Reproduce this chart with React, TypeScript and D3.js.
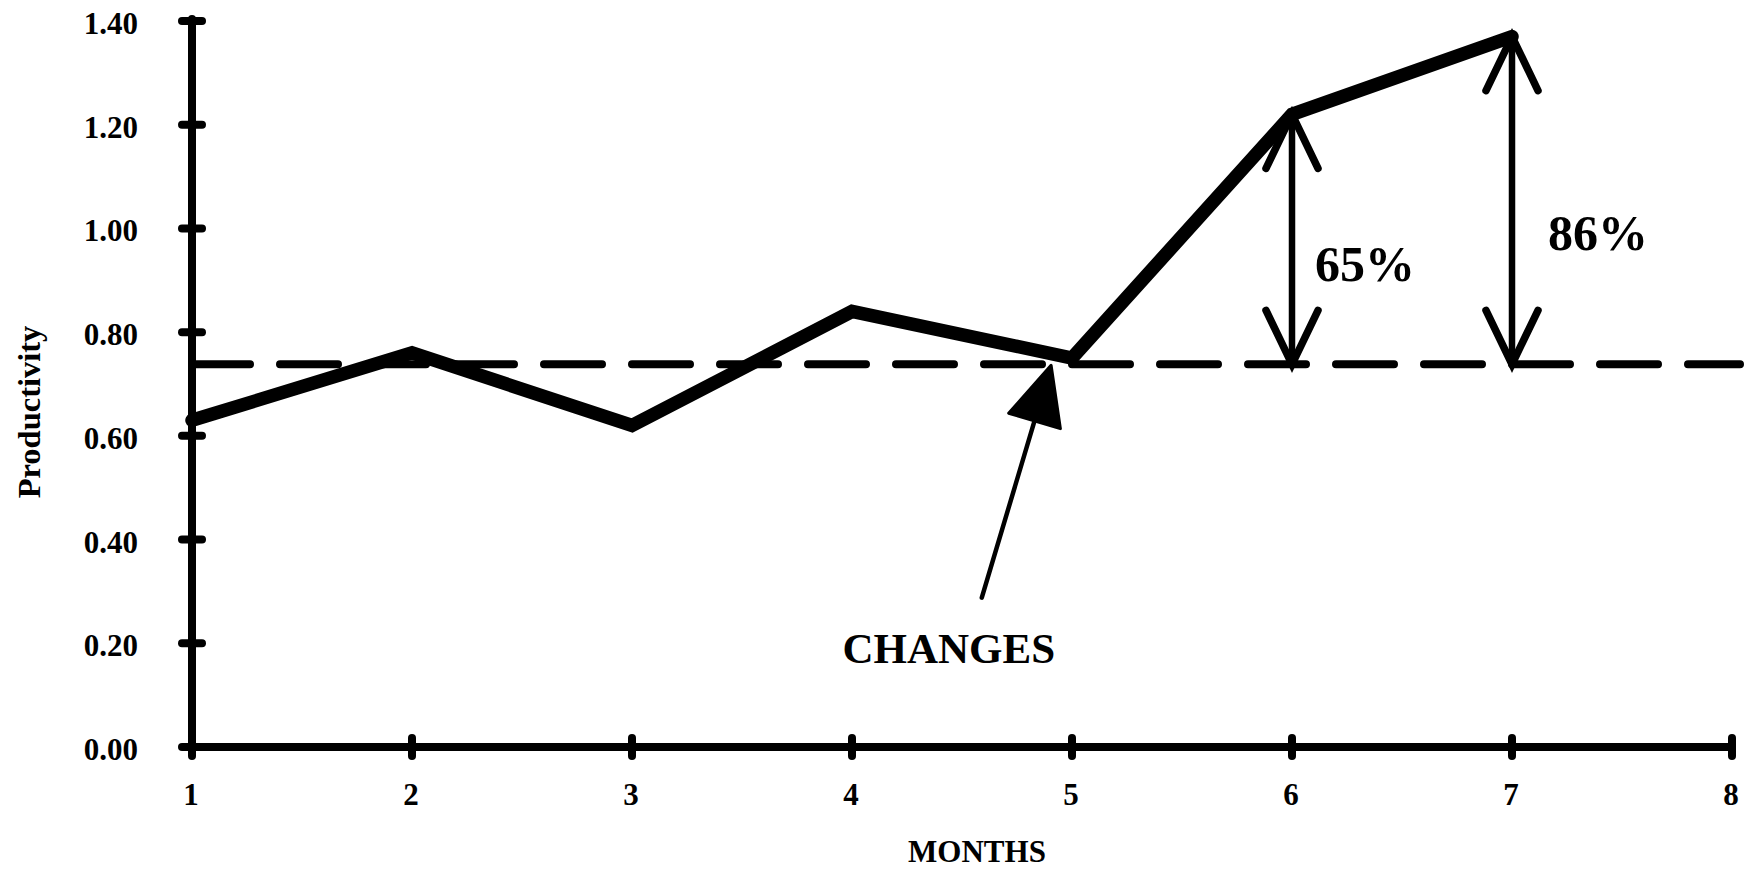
import React from "react";
import * as d3 from "d3";

// Monthly productivity readings
const months = [1, 2, 3, 4, 5, 6, 7];
const productivity = [0.63, 0.76, 0.62, 0.84, 0.75, 1.22, 1.37];

// Pre-change reference level
const baseline = 0.738;

// Axis ticks
const xTicks = [1, 2, 3, 4, 5, 6, 7, 8];
const yTicks = [0, 0.2, 0.4, 0.6, 0.8, 1.0, 1.2, 1.4];
const yTickLabels = ["0.00", "0.20", "0.40", "0.60", "0.80", "1.00", "1.20", "1.40"];

// Months whose gain over the baseline is annotated
const gainMonths = [6, 7];

const W = 1744;
const H = 870;
const FONT = "'Liberation Serif', 'Times New Roman', serif";

export default function App() {
  const x = d3.scaleLinear().domain([1, 8]).range([192, 1732]);
  const y = d3.scaleLinear().domain([0, 1.4]).range([747, 21]);

  const line = d3
    .line<number>()
    .x((_, i) => x(months[i]))
    .y((d) => y(d));

  const headLen = 54;
  const headHalf = 26;

  // "CHANGES" pointer, in data units
  const ptrTail = { mx: 4.59, v: 0.288 };
  const ptrTip = { mx: 4.905, v: 0.736 };
  const tx0 = x(ptrTail.mx);
  const ty0 = y(ptrTail.v);
  const tx1 = x(ptrTip.mx);
  const ty1 = y(ptrTip.v);
  const ang = Math.atan2(ty1 - ty0, tx1 - tx0);
  const triLen = 58;
  const triHalf = 27;
  const bx = tx1 - triLen * Math.cos(ang);
  const by = ty1 - triLen * Math.sin(ang);
  const px = -Math.sin(ang);
  const py = Math.cos(ang);
  const tri = `M${tx1},${ty1}L${bx + px * triHalf},${by + py * triHalf}L${bx - px * triHalf},${by - py * triHalf}Z`;

  const labelPos: Record<number, { mx: number; v: number }> = {
    6: { mx: 6.105, v: 0.899 },
    7: { mx: 7.164, v: 0.958 },
  };

  return (
    <svg
      width={W}
      height={H}
      style={{ position: "absolute", left: 0, top: 0, background: "#fff" }}
      fontFamily={FONT}
      fontWeight="bold"
    >
      {/* baseline level */}
      <line
        x1={x(1)}
        x2={1740}
        y1={y(baseline)}
        y2={y(baseline)}
        stroke="#000"
        strokeWidth={8}
        strokeDasharray="58 30"
        strokeLinecap="round"
      />

      {/* axes */}
      <line x1={x(1)} x2={x(1)} y1={y(1.4) - 2} y2={y(0)} stroke="#000" strokeWidth={8} strokeLinecap="round" />
      <line x1={x(1)} x2={x(8)} y1={y(0)} y2={y(0)} stroke="#000" strokeWidth={8} strokeLinecap="round" />

      {yTicks.map((t, i) => (
        <g key={"y" + i}>
          <line x1={x(1) - 10} x2={x(1) + 10} y1={y(t)} y2={y(t)} stroke="#000" strokeWidth={8} strokeLinecap="round" />
          <text x={138} y={y(t) + 13} textAnchor="end" fontSize={31}>
            {yTickLabels[i]}
          </text>
        </g>
      ))}

      {xTicks.map((t) => (
        <g key={"x" + t}>
          <line x1={x(t)} x2={x(t)} y1={y(0) - 9} y2={y(0) + 9} stroke="#000" strokeWidth={8} strokeLinecap="round" />
          <text x={x(t) - 1} y={805} textAnchor="middle" fontSize={31}>
            {t}
          </text>
        </g>
      ))}

      {/* axis titles */}
      <text x={977} y={862} textAnchor="middle" fontSize={31}>
        MONTHS
      </text>
      <text transform="translate(40,412) rotate(-90)" textAnchor="middle" fontSize={32.5}>
        Productivity
      </text>

      {/* productivity series */}
      <path
        d={line(productivity) || ""}
        fill="none"
        stroke="#000"
        strokeWidth={13.5}
        strokeLinejoin="miter"
        strokeLinecap="round"
      />

      {/* gain over baseline */}
      {gainMonths.map((m) => {
        const v = productivity[months.indexOf(m)];
        const cx = x(m);
        const top = y(v);
        const bot = y(baseline);
        const pct = Math.round((v / baseline - 1) * 100);
        const lp = labelPos[m];
        return (
          <g key={"g" + m} stroke="#000" strokeLinecap="round" fill="none">
            <line x1={cx} x2={cx} y1={top} y2={bot} strokeWidth={6.5} />
            <path d={`M${cx - headHalf},${top + headLen}L${cx},${top}L${cx + headHalf},${top + headLen}`} strokeWidth={7.5} strokeLinejoin="miter" />
            <path d={`M${cx - headHalf},${bot - headLen}L${cx},${bot}L${cx + headHalf},${bot - headLen}`} strokeWidth={7.5} strokeLinejoin="miter" />
            <text x={x(lp.mx)} y={y(lp.v)} fontSize={50} fill="#000" stroke="none">
              {pct}%
            </text>
          </g>
        );
      })}

      {/* change marker */}
      <line x1={tx0} y1={ty0} x2={bx} y2={by} stroke="#000" strokeWidth={4.5} strokeLinecap="round" />
      <path d={tri} fill="#000" stroke="#000" strokeWidth={3} strokeLinejoin="round" />
      <text x={x(4.44)} y={y(0.162)} textAnchor="middle" fontSize={43}>
        CHANGES
      </text>
    </svg>
  );
}
